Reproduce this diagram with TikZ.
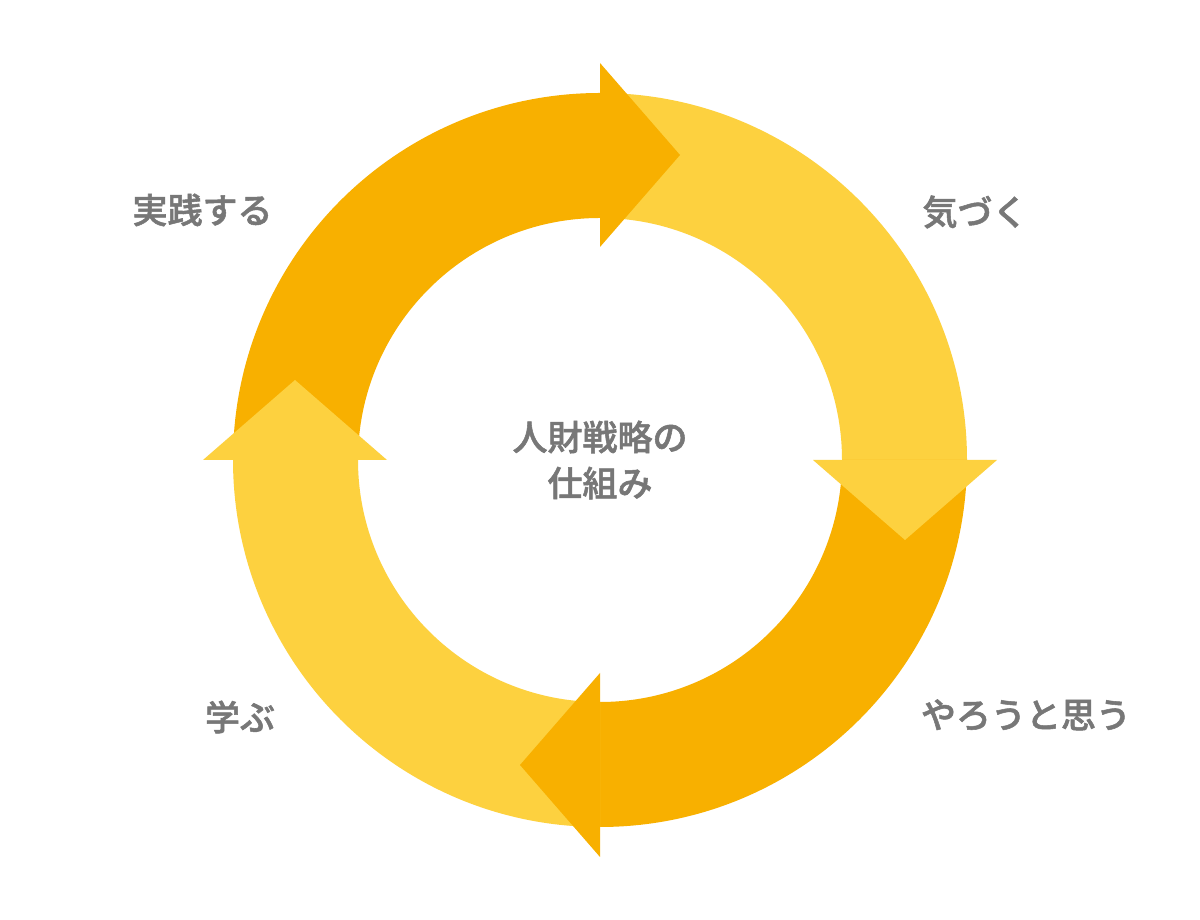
\documentclass[tikz,border=0pt]{standalone}
\usepackage{fontspec}
\newfontfamily\cjk{Noto Sans CJK JP Medium}[FakeBold=1.5]
\definecolor{darkorg}{HTML}{F8B000}
\definecolor{lightyel}{HTML}{FDD13F}
\definecolor{txtgray}{HTML}{777777}
\begin{document}
\begin{tikzpicture}[x=1pt,y=1pt,
  lbl/.style={font=\cjk\fontsize{35}{46}\selectfont, text=txtgray, inner sep=0pt, align=center}]
\useasboundingbox[fill=white] (0,0) rectangle (1200,920);
\coordinate (C) at (600,460);
\begin{scope}[shift={(C)}]
  % bodies
  \fill[darkorg] (90:367) arc[start angle=90,end angle=180,radius=367] -- (180:242) arc[start angle=180,end angle=90,radius=242] -- cycle;
  \fill[lightyel] (0:367) arc[start angle=0,end angle=90,radius=367] -- (90:242) arc[start angle=90,end angle=0,radius=242] -- cycle;
  \fill[darkorg] (-90:367) arc[start angle=-90,end angle=0,radius=367] -- (0:242) arc[start angle=0,end angle=-90,radius=242] -- cycle;
  \fill[lightyel] (180:367) arc[start angle=180,end angle=270,radius=367] -- (270:242) arc[start angle=270,end angle=180,radius=242] -- cycle;
  % heads
  \fill[darkorg] (0,397) -- (80,305) -- (0,213) -- cycle;
  \fill[lightyel] (213,0) -- (397,0) -- (305,-80) -- cycle;
  \fill[darkorg] (0,-213) -- (0,-397) -- (-80,-305) -- cycle;
  \fill[lightyel] (-397,0) -- (-213,0) -- (-305,80) -- cycle;
\end{scope}
\node[lbl] (center) at (600,460) {人財戦略の\\仕組み};
\node[lbl] (jissen) at (202.5,710) {実践する};
\node[lbl] (kizuku) at (975,708) {気づく};
\node[lbl] (yarou) at (1026,205) {やろうと思う};
\node[lbl] (manabu) at (240,203) {学ぶ};
\end{tikzpicture}
\end{document}
